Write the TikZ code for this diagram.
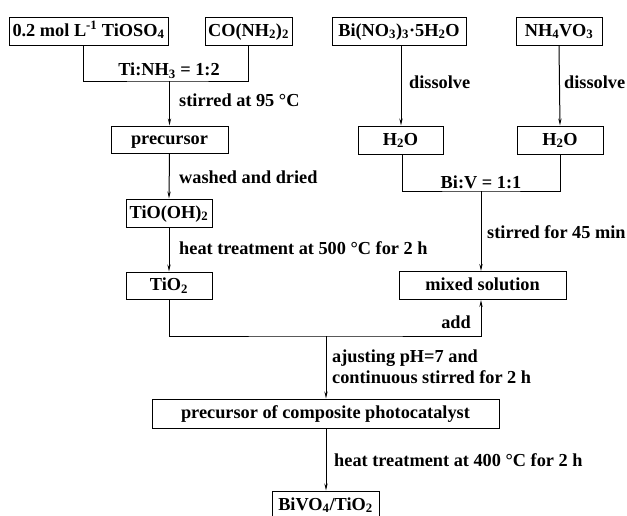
\documentclass[tikz,border=0pt]{standalone}
\usepackage{fontspec}
\setmainfont{Liberation Serif}
\usetikzlibrary{arrows.meta,calc}
\newcommand{\sbs}[1]{\textsubscript{#1}}
\begin{document}
\begin{tikzpicture}[x=1pt,y=-1pt,
  font=\fontsize{18.3}{21}\selectfont\bfseries,
  box/.style={draw,line width=1pt,inner sep=0pt,minimum height=28pt,text height=13pt,text depth=3pt},
  lbl/.style={inner sep=0pt,anchor=west,align=left},
  ln/.style={line width=1pt},
  arr/.style={line width=1pt,-{Stealth[length=7pt,width=3.2pt]}}]
\useasboundingbox (0,0) rectangle (627,515);
% boxes
\node[box,minimum width=159pt] (A) at (88.5,31) {0.2 mol L\textsuperscript{-1} TiOSO\sbs{4}};
\node[box,minimum width=87pt] (B) at (248.5,31) {CO(NH\sbs{2})\sbs{2}};
\node[box,minimum width=117pt,minimum height=27pt] (C) at (169.5,139.5) {precursor};
\node[box,minimum width=86pt] (D) at (169,213) {TiO(OH)\sbs{2}};
\node[box,minimum width=86pt,minimum height=27pt] (E) at (169,285.5) {TiO\sbs{2}};
\node[box,minimum width=134pt] (F) at (399,31) {Bi(NO\sbs{3})\sbs{3}·5H\sbs{2}O};
\node[box,minimum width=86pt] (G) at (559,31) {NH\sbs{4}VO\sbs{3}};
\node[box,minimum width=85pt] (H) at (400.5,140) {H\sbs{2}O};
\node[box,minimum width=86pt] (I) at (560,140) {H\sbs{2}O};
\node[box,minimum width=167pt] (J) at (482.5,285.5) {mixed solution};
\node[box,minimum width=347pt,minimum height=29pt] (K) at (325.5,413.5) {precursor of composite photocatalyst};
\node[box,minimum width=107pt] (L) at (325.5,505) {BiVO\sbs{4}/TiO\sbs{2}};
% junction coordinates
\coordinate (j1) at (169.5,81);
\coordinate (j2) at (481,191);
\coordinate (j3) at (326,336);
% connectors
\draw[ln] ([xshift=-5.5pt]A.south) |- (j1) -| (B.south);
\draw[arr] (j1) -- (C.north);
\draw[arr] (C.south) -- (D.north);
\draw[arr] (D.south) -- (E.north);
\draw[arr] ([xshift=2pt]F.south) -- ([xshift=0.5pt]H.north);
\draw[arr] (G.south) -- (I.north);
\draw[ln] ([xshift=1.5pt]H.south) |- (j2) -| (I.south);
\draw[arr] (j2) -- (J.north -| j2);
\draw[arr] (E.south) |- (j3) -| (J.south -| j2);
\draw[arr] (j3) -- (K.north -| j3);
\draw[arr] (K.south -| j3) -- (L.north -| j3);
% labels
\node[inner sep=0pt] (t1) at (169,71) {Ti:NH\sbs{3} = 1:2};
\node[lbl] (t2) at (179,100) {stirred at 95 °C};
\node[lbl] (t3) at (179,177) {washed and dried};
\node[lbl] (t4) at (179,248) {heat treatment at 500 °C for 2 h};
\node[lbl] (t5) at (409,82) {dissolve};
\node[lbl] (t6) at (564,82) {dissolve};
\node[inner sep=0pt] (t7) at (481,182) {Bi:V = 1:1};
\node[lbl] (t8) at (487,232) {stirred for 45 min};
\node[inner sep=0pt,anchor=east] (t9) at (471,322) {add};
\node[lbl] (t10) at (332,367) {ajusting pH=7 and\\continuous stirred for 2 h};
\node[lbl] (t11) at (334,460) {heat treatment at 400 °C for 2 h};
\end{tikzpicture}
\end{document}
